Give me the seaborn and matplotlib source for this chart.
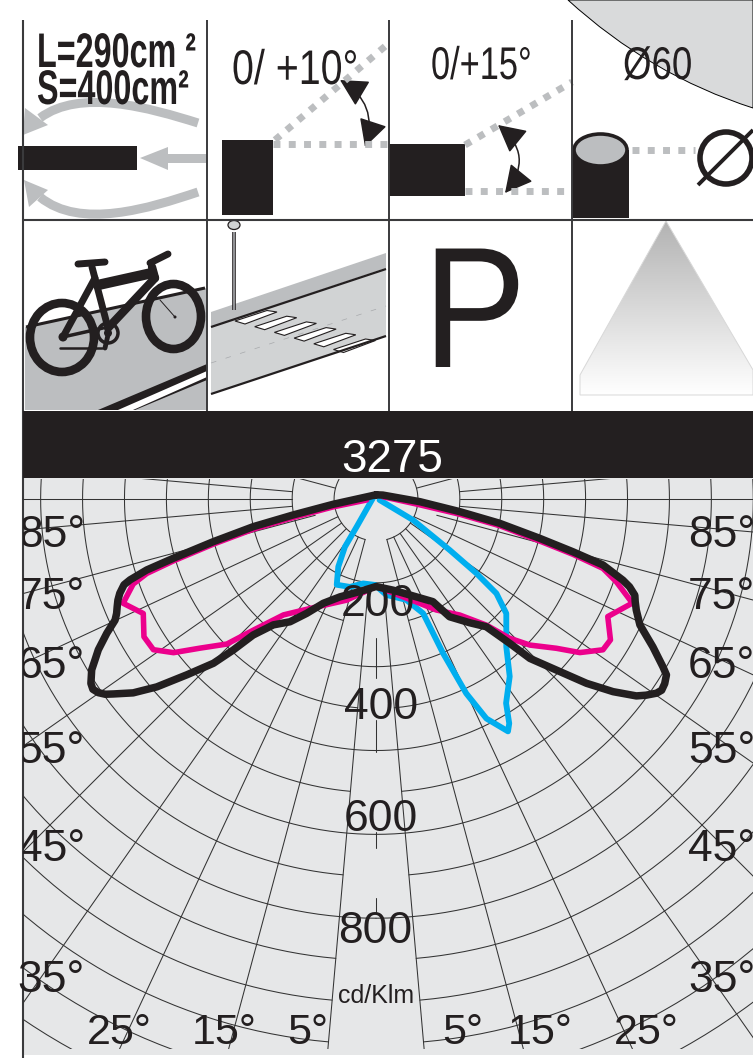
import numpy as np
import matplotlib
matplotlib.use("Agg")
import matplotlib.pyplot as plt
import matplotlib.patheffects as pe
import seaborn as sns
from matplotlib.colors import LinearSegmentedColormap
from matplotlib.patches import Circle, Ellipse, FancyArrowPatch, PathPatch, Polygon, Rectangle
from matplotlib.path import Path
from matplotlib.transforms import Affine2D, Bbox

# --- Photometric curves: gamma in degrees (0 = straight down), intensity in cd/Klm ---
BLACK_GAMMA = [180, -83, -79.1, -77.3, -75.3, -73.7, -72.8, -71.8, -71.2, -69.8, -68.6, -67.4, -66.2, -65.1,
               -63.5, -61.5, -60.2, -59, -57.1, -56.1, -55.1, -54.2, -53.4, -51.4, -49.4, -47.1, -44.7, -43.4,
               -42.1, -39.2, -35, -31.2, -26.8, -20.2, -9.8, 0, 10.6, 22.4, 29, 32, 37.1, 40.8, 42.8, 44, 46.8,
               48.8, 50.9, 52.9, 54, 55.3, 56.2, 57.4, 58.8, 59.7, 61.9, 64.5, 66.9, 68.4, 69.6, 70.9, 71.8,
               73.8, 75, 76.5, 78.9, 81.4, 86.5, 120, 180]
BLACK_CDKLM = [8, 82, 161, 240, 321, 403, 458, 494, 508, 521, 529, 535, 541, 549,
               574, 603, 618, 633, 648, 651, 646, 637, 624, 593, 551, 493, 441, 397,
               350, 310, 286, 255, 223, 199, 179, 167, 177, 202, 224, 265, 296, 322, 375, 423, 481,
               534, 583, 623, 637, 651, 656, 654, 648, 634, 599, 558, 540, 532, 527, 512, 496,
               451, 389, 321, 240, 162, 84, 15, 8]

PINK_GAMMA = [-84, -79.6, -77.4, -76.2, -74.5, -73, -72, -70.7, -67.6, -63.8, -59.3, -55.9, -52.8, -49.7,
              -45.8, -43.1, -38.6, -28.8, -16.2, 0, 21.4, 28.5, 35.8, 41.2, 43.8, 46.5, 50.4, 53, 56.4,
              59, 63.1, 67.9, 71, 73, 74.3, 75.6, 77.8, 79.7, 82.9, 108]
PINK_CDKLM = [18, 83, 162, 241, 322, 405, 460, 491, 522, 495, 515, 513, 485, 440,
              397, 343, 283, 235, 201, 167, 211, 241, 273, 320, 368, 405, 447, 487, 520,
              522, 496, 528, 485, 453, 391, 323, 242, 162, 78, 14]

BLUE_GAMMA = [-110, -34.9, -33, -29.1, -24.6, -16.5, -8.6, -0.7, 6.1, 16.7, 22.4, 23.5, 24.9, 26.7,
              29.6, 30.7, 32.5, 37, 41.4, 48.7, 51.9, 53.5, 55.3, 60.4, 75]
BLUE_CDKLM = [6, 64, 109, 148, 180, 175, 163, 164, 184, 201, 236, 321, 409, 469,
              510, 498, 462, 424, 376, 331, 292, 238, 171, 81, 7]

# --- Grid of the polar diagram ---
RING_STEP = 80
RING_GAPS = [15, 0, 15, 0, 5, 0, 5, 0, 5, 0, 5, 5, 5, 5, 5, 5]
SPOKE_ANGLES = [5, 15, 25, 35, 45, 55, 65, 75, 85, 90, 95, 105]
SPOKE_STARTS = [160, 80, 80, 80, 80, 80, 80, 120, 160, 160, 160, 80]
AXIS_TICKS = [(265, 341), (422, 483), (635, 666), (761, 788)]

# --- Labels ---
LEFT_LABELS = ["85°", "75°", "65°", "55°", "45°", "35°"]
RIGHT_LABELS = ["85°", "75°", "65°", "55°", "45°", "35°"]
LABEL_BASE = [547, 609, 678, 763, 861, 992]
BOTTOM_LABELS = ["25°", "15°", "5°", "5°", "15°", "25°"]
BOTTOM_LEFT = [87, 192, 287, 442, 508, 614]
VALUE_LABELS = ["200", "400", "600", "800"]
VALUE_X = [378, 381, 381, 375]
VALUE_BASE = [616, 719, 831, 943]

# --- Figure geometry, in pixels of the 753x1058 picture ---
W, H = 753, 1058
CX, CY = 376, 499
PX_PER_CD = 0.524
R_PX = 720

DARK = "#231f20"
RULE = "#3a3a3c"
GREY = "#bcbec0"
PANEL = "#e6e7e8"

sns.set_theme(style="white")
plt.rcParams["font.family"] = ["Liberation Sans", "DejaVu Sans"]

fig = plt.figure(figsize=(W / 100, H / 100), dpi=100, facecolor="white")


class Squeeze(pe.AbstractPathEffect):
    """Draws a text narrower: no condensed face is installed."""

    def __init__(self, sx):
        super().__init__()
        self.sx = sx

    def draw_path(self, renderer, gc, tpath, affine, rgbFace=None):
        renderer.draw_path(gc, tpath, Affine2D().scale(self.sx, 1) + affine, rgbFace)


def squeezed_text(ax, x, y, label, sx, **kw):
    t = ax.text(x, y, label, ha="left", va="baseline", color=DARK, path_effects=[Squeeze(sx)], **kw)
    full_extent = t.get_window_extent

    # report the narrower box that is really drawn
    def narrow_extent(renderer=None, dpi=None):
        box = full_extent(renderer, dpi)
        return Bbox([[box.x0, box.y0], [box.x0 + box.width * sx, box.y1]])

    t.get_window_extent = narrow_extent
    return t


def pixel_axes(zorder):
    ax = fig.add_axes([0, 0, 1, 1], zorder=zorder)
    ax.set_xlim(0, W)
    ax.set_ylim(H, 0)
    ax.axis("off")
    return ax


def seg(ax, x0, y0, x1, y1, lw, color=DARK, **kw):
    kw.setdefault("solid_capstyle", "butt")
    ax.plot([x0, x1], [y0, y1], color=color, lw=lw, **kw)


def dotted(ax, x0, y0, x1, y1):
    ax.plot([x0, x1], [y0, y1], color=GREY, lw=5, dash_capstyle="butt", linestyle=(0, (1, 1.2)))


def bezier(ax, pts, lw, color=GREY):
    codes = [Path.MOVETO, Path.CURVE4, Path.CURVE4, Path.CURVE4]
    ax.add_patch(PathPatch(Path(pts, codes), fc="none", ec=color, lw=lw, capstyle="butt"))


def double_arrow(ax, a, b, rad):
    ax.add_patch(FancyArrowPatch(a, b, connectionstyle=f"arc3,rad={rad}", fc=DARK, ec=DARK, lw=1.1,
                                 arrowstyle="<|-|>,head_length=0.95,head_width=0.5", mutation_scale=18,
                                 shrinkA=0, shrinkB=0))


# --- 1. Background panel and pictograms ---
pic = pixel_axes(0)
pic.add_patch(Rectangle((23, 478), W - 23, 577, fc=PANEL, ec="none"))

# grey disc in the top right corner
pic.add_patch(PathPatch(Path([(568, 0), (650, 75), (753, 108), (753, 0), (568, 0)],
                             [Path.MOVETO, Path.CURVE3, Path.CURVE3, Path.LINETO, Path.CLOSEPOLY]),
                        fc="#d9dadb", ec="black", lw=0.7))

# cell 1: surface areas
bezier(pic, [(198, 123), (150, 108), (80, 88), (40, 118)], 6.5)
pic.add_patch(Polygon([(23, 135), (25, 108), (48, 125)], fc=GREY, ec="none"))
bezier(pic, [(198, 192), (150, 208), (80, 230), (40, 197)], 6.5)
pic.add_patch(Polygon([(24, 180), (48, 190), (29, 207)], fc=GREY, ec="none"))
pic.add_patch(Polygon([(207, 154), (168, 154), (168, 147), (140, 158), (168, 170), (168, 163), (207, 163)],
                      fc=GREY, ec="none"))
pic.add_patch(Rectangle((18, 146), 119, 24, fc=DARK, ec="none"))

# cell 2: tilt 0/+10
pic.add_patch(Rectangle((222, 140), 51, 75, fc=DARK, ec="none"))
dotted(pic, 273, 144, 389, 144)
dotted(pic, 275, 140, 389, 43)
double_arrow(pic, (340, 80), (365, 147), -0.4)

# cell 3: tilt 0/+15
pic.add_patch(Rectangle((389, 144), 76, 52, fc=DARK, ec="none"))
dotted(pic, 465, 191, 570, 191)
dotted(pic, 465, 145, 572, 82)
double_arrow(pic, (498, 125), (505, 193), -0.5)

# cell 4: spigot diameter
pic.add_patch(Rectangle((572, 150), 57, 68, fc=DARK, ec="none"))
pic.add_patch(Ellipse((600.5, 150), 53, 32, fc=GREY, ec=DARK, lw=2.6))
dotted(pic, 632, 150, 695, 150)
pic.add_patch(Circle((726, 158), 26, fc="none", ec=DARK, lw=4))
seg(pic, 698, 185, 753, 130, 2.8)

# row 2, cell 1: bicycle on its lane
pic.add_patch(Polygon([(25, 327), (207, 288), (207, 410), (25, 410)], fc=GREY, ec="none"))
seg(pic, 26, 327, 205, 288, 2.2)
pic.add_patch(Polygon([(98, 410), (207, 364), (207, 380), (135, 410)], fc=DARK, ec="none"))
pic.add_patch(Polygon([(118, 410), (207, 371), (207, 377), (133, 410)], fc="white", ec="none"))
pic.add_patch(Ellipse((62, 337.5), 64, 69, fc="none", ec=DARK, lw=6.2))
pic.add_patch(Ellipse((173.5, 316.5), 55, 65, fc="none", ec=DARK, lw=6.2))
for x0, y0, x1, y1, lw in [(78, 264, 105, 262, 5), (92, 267, 108, 328, 5), (98, 285, 152, 273, 7.5),
                           (152, 267, 155, 278, 6), (150, 263, 168, 254, 5), (155, 278, 108, 328, 6),
                           (63, 337, 95, 278, 5), (63, 337, 103, 328, 2.5), (60, 348, 102, 348, 1.8),
                           (160, 300, 175, 317, 0.7), (108, 335, 105, 348, 3.5)]:
    seg(pic, x0, y0, x1, y1, lw, solid_capstyle="round")
pic.add_patch(Circle((108, 333), 10, fc=GREY, ec=DARK, lw=2.5))
pic.add_patch(Circle((108, 333), 4, fc=DARK, ec="none"))
pic.add_patch(Circle((63, 337), 4.5, fc=DARK, ec="none"))
pic.add_patch(Circle((175, 317), 1.5, fc=DARK, ec="none"))

# row 2, cell 2: road with crossing and lamp post
pic.add_patch(Polygon([(211, 312), (386, 253), (386, 268), (211, 327)], fc=GREY, ec="none"))
pic.add_patch(Polygon([(211, 327), (386, 268), (386, 336), (211, 394)], fc="#d1d3d4", ec="none"))
seg(pic, 211, 327, 386, 269, 1.6)
seg(pic, 211, 394, 386, 336, 1.6)
seg(pic, 211, 363, 386, 306, 0.5, color="#a7a9ac", linestyle=(0, (8, 14)))
for k in range(6):
    dx, dy = 19.7 * k, 5.7 * k
    pic.add_patch(Polygon([(235 + dx, 321 + dy), (267 + dx, 310.5 + dy), (277 + dx, 312 + dy), (245 + dx, 324 + dy)],
                          fc="white", ec=DARK, lw=0.8))
seg(pic, 234, 232, 234, 310, 2.6)
seg(pic, 234, 232, 234, 310, 1.2, color="#a7a9ac")
pic.add_patch(Ellipse((234, 225), 12, 9, fc="#d1d3d4", ec=DARK, lw=0.9))

# row 2, cell 4: light cone with gradient
cone = Polygon([(666, 221), (580, 375), (580, 395), (753, 395), (753, 370)], fc="none", ec="#d8d8d8", lw=0.7)
pic.add_patch(cone)
grad = LinearSegmentedColormap.from_list("cone", ["#b3b3b3", "#ffffff"])
im = pic.imshow(np.linspace(0, 1, 200).reshape(-1, 1), cmap=grad, extent=(570, 753, 395, 221), aspect="auto", zorder=0.5)
im.set_clip_path(cone)
pic.set_xlim(0, W)
pic.set_ylim(H, 0)

# frame of the table
for x in [207, 389, 572]:
    seg(pic, x, 20, x, 411, 1.4, color=RULE)
seg(pic, 23, 219.5, W, 219.5, 1.5, color=RULE)
seg(pic, 23.5, 20, 23.5, H, 1.5, color=RULE)
pic.add_patch(Rectangle((23, 411), W - 23, 67, fc=DARK, ec="none", zorder=3))

# --- 2. Polar diagram ---
ax = fig.add_axes([(CX - R_PX) / W, (H - CY - R_PX) / H, 2 * R_PX / W, 2 * R_PX / H], projection="polar", zorder=1)
ax.set_theta_zero_location("S")
ax.patch.set_visible(False)

grid_clip = Rectangle((23 / W, 1 - 1049 / H), 1 - 23 / W, (1049 - 479) / H, transform=fig.transFigure)
for k, gap in enumerate(RING_GAPS, start=1):
    for sign in (-1, 1):
        theta = np.radians(sign * np.linspace(gap, 118, 150))
        line, = ax.plot(theta, np.full(theta.shape, k * RING_STEP), color="#333333", lw=0.75)
        line.set_clip_path(grid_clip)
for angle, start in zip(SPOKE_ANGLES, SPOKE_STARTS):
    for sign in (-1, 1):
        theta = np.radians(sign * angle)
        line, = ax.plot([theta, theta], [start, R_PX / PX_PER_CD], color="#333333", lw=0.75)
        line.set_clip_path(grid_clip)
for r0, r1 in AXIS_TICKS:
    ax.plot([0, 0], [r0, r1], color="#333333", lw=0.75)

for gamma, cd, color, lw in [(BLUE_GAMMA, BLUE_CDKLM, "#00aeef", 4.2),
                             (PINK_GAMMA, PINK_CDKLM, "#ec008c", 4.0),
                             (BLACK_GAMMA, BLACK_CDKLM, DARK, 5.4)]:
    sns.lineplot(x=np.radians(gamma), y=cd, sort=False, estimator=None, color=color, lw=lw, ax=ax,
                 solid_joinstyle="round", solid_capstyle="round")

ax.set_rlim(0, R_PX / PX_PER_CD)
ax.set_xlabel("")
ax.set_ylabel("")
ax.grid(False)
ax.axis("off")

# --- 3. Text on top ---
top = pixel_axes(5)
panel_clip = Rectangle((23, 478), W - 23, 580, transform=top.transData)

for label, base in zip(LEFT_LABELS, LABEL_BASE):
    t = top.text(85, base, label, ha="right", va="baseline", fontsize=32, color=DARK)
    if label != "35°":
        t.set_clip_on(True)
        t.set_clip_path(panel_clip)
for label, base in zip(RIGHT_LABELS, LABEL_BASE):
    top.text(688, base, label, ha="left", va="baseline", fontsize=32, color=DARK)
for label, left in zip(BOTTOM_LABELS, BOTTOM_LEFT):
    top.text(left, 1044, label, ha="left", va="baseline", fontsize=31, color=DARK)
for label, x, base in zip(VALUE_LABELS, VALUE_X, VALUE_BASE):
    top.text(x, base, label, ha="center", va="baseline", fontsize=32, color=DARK)
top.text(376, 1003, "cd/Klm", ha="center", va="baseline", fontsize=18, color=DARK)
top.text(392, 472, "3275", ha="center", va="baseline", fontsize=33, color="white")

squeezed_text(top, 37, 67, "L=290cm ²", 0.665, fontsize=35, fontweight="bold")
squeezed_text(top, 37, 104, "S=400cm²", 0.665, fontsize=35, fontweight="bold")
squeezed_text(top, 232, 84, "0/ +10°", 0.81, fontsize=35)
squeezed_text(top, 431, 79, "0/+15°", 0.75, fontsize=33)
squeezed_text(top, 623, 79, "Ø60", 0.8, fontsize=33)
squeezed_text(top, 423, 367, "P", 0.9, fontsize=124)

fig.savefig("out.png", dpi=100)
plt.close(fig)
